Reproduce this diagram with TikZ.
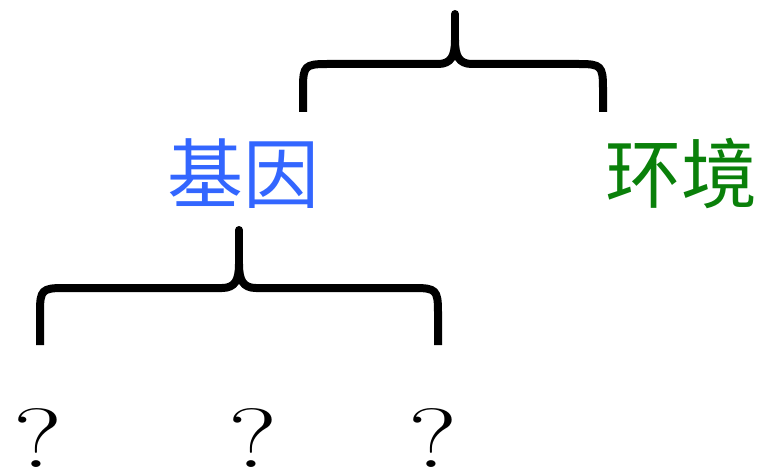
\documentclass[tikz,border=0pt]{standalone}
\usepackage{fontspec}
\usepackage{graphicx}
\newfontfamily\cjk{Noto Sans CJK SC}
\definecolor{geneblue}{RGB}{51,102,255}
\definecolor{envgreen}{RGB}{10,128,10}
\newcommand{\wideq}{\scalebox{1.35}[1]{?}}
\tikzset{
  bracestroke/.style={line width=8pt, black, line join=round},
  tipstroke/.style={line width=8pt, black, line cap=round},
  cjklabel/.style={font=\cjk\fontsize{76}{80}\selectfont, inner sep=0pt},
  qmark/.style={font=\fontsize{84}{90}\selectfont, inner sep=0pt, anchor=base}
}
\begin{document}
\begin{tikzpicture}[x=1pt,y=-1pt]
\useasboundingbox (0,0) rectangle (769,476);
% top brace
\coordinate (tL) at (303,112);
\coordinate (tR) at (603,112);
\coordinate (tT) at (455,14);
\draw[bracestroke] (tL) -- (303,88) .. controls (303,66) and (305,64) .. (327,64) -- (438,64) .. controls (451,64) and (455,56) .. (455,40);
\draw[bracestroke] (tR) -- (603,88) .. controls (603,66) and (601,64) .. (579,64) -- (472,64) .. controls (459,64) and (455,56) .. (455,40);
\draw[tipstroke] (455,42) -- (tT);
% bottom brace
\coordinate (bL) at (40,345);
\coordinate (bR) at (438,345);
\coordinate (bT) at (239,230);
\draw[bracestroke] (bL) -- (40,312) .. controls (40,290) and (42,288) .. (64,288) -- (222,288) .. controls (235,288) and (239,280) .. (239,264);
\draw[bracestroke] (bR) -- (438,312) .. controls (438,290) and (436,288) .. (414,288) -- (256,288) .. controls (243,288) and (239,280) .. (239,264);
\draw[tipstroke] (239,266) -- (bT);
% labels
\node[cjklabel, text=geneblue] (gene) at (243,174) {基因};
\node[cjklabel, text=envgreen] (env) at (681,174) {环境};
\node[qmark] (q1) at (38,467) {\wideq};
\node[qmark] (q2) at (253,467) {\wideq};
\node[qmark] (q3) at (433,467) {\wideq};
\end{tikzpicture}
\end{document}
